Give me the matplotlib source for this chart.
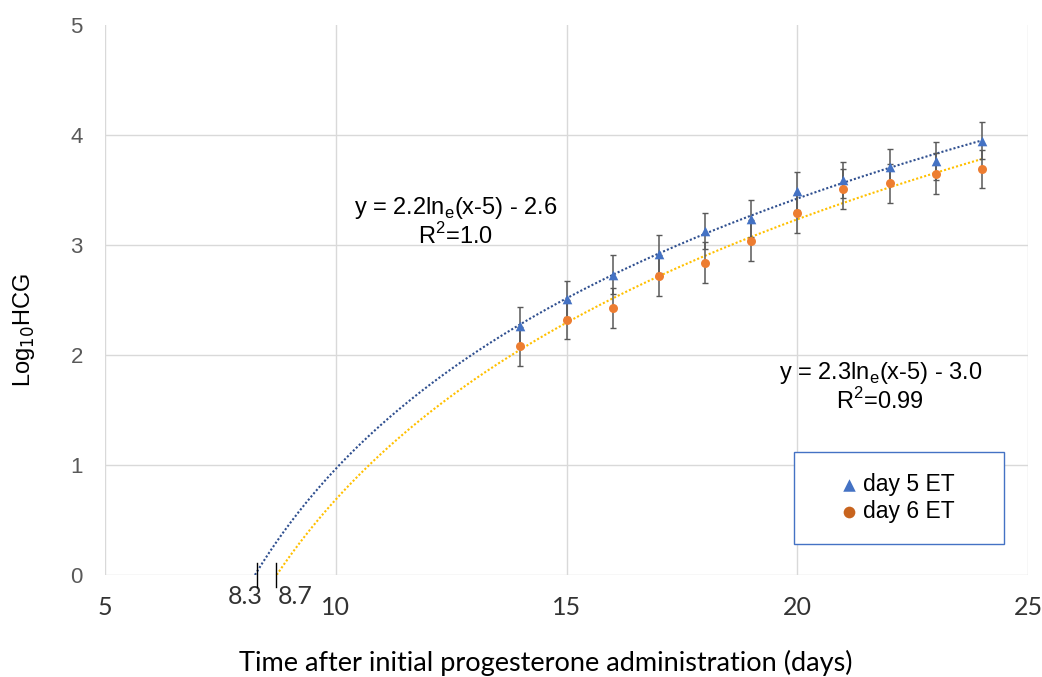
import numpy as np
import matplotlib
matplotlib.use('Agg')
import matplotlib.pyplot as plt
from matplotlib.patches import Rectangle

# data
days = [14, 15, 16, 17, 18, 19, 20, 21, 22, 23, 24]
day5_mean = [2.26, 2.51, 2.73, 2.92, 3.13, 3.24, 3.49, 3.59, 3.71, 3.76, 3.95]
day5_err = [0.175, 0.164, 0.176, 0.17, 0.164, 0.167, 0.176, 0.164, 0.164, 0.173, 0.167]
day6_mean = [2.08, 2.32, 2.43, 2.72, 2.84, 3.04, 3.29, 3.51, 3.56, 3.65, 3.69]
day6_err = [0.176, 0.176, 0.18, 0.185, 0.185, 0.185, 0.18, 0.18, 0.18, 0.185, 0.176]
x_cross = [8.3, 8.7]
x_ticks = [5, 10, 15, 20, 25]
y_ticks = [0, 1, 2, 3, 4, 5]

fig = plt.figure(figsize=(10.42, 6.77), dpi=100)
ax = fig.add_axes([0.1008, 0.1507, 0.8858, 0.8123])

blue = '#4472C4'
orange = '#ED7D31'
grey = '#595959'

x = np.array(days, dtype=float)


def log_fit(y):
    a, b = np.polyfit(np.log(x - 5), np.array(y), 1)
    return a, b


# trend lines, from where they cross zero up to the last day
for y, col in [(day5_mean, '#2F4F8F'), (day6_mean, '#FFC000')]:
    a, b = log_fit(y)
    x0 = 5 + np.exp(-b / a)
    xs = np.linspace(x0, x.max(), 200)
    ax.plot(xs, a * np.log(xs - 5) + b, ls=(0, (1, 1)), color=col, lw=1.5, zorder=2)

ax.errorbar(days, day5_mean, yerr=day5_err, fmt='none', ecolor=grey, elinewidth=1.1,
            capsize=2.5, capthick=1, zorder=3)
ax.errorbar(days, day6_mean, yerr=day6_err, fmt='none', ecolor=grey, elinewidth=1.1,
            capsize=2.5, capthick=1, zorder=3)
ax.scatter(days, day5_mean, marker='^', s=48, color=blue, lw=0, zorder=4, label='day 5 ET')
ax.scatter(days, day6_mean, marker='o', s=42, color=orange, lw=0, zorder=4, label='day 6 ET')

ax.set_xlim(5, 25)
ax.set_ylim(0, 5)
ax.set_xticks(x_ticks)
ax.set_yticks(y_ticks)
ax.grid(True, color='#D9D9D9', lw=1)
ax.get_ygridlines()[-1].set_visible(False)
ax.set_axisbelow(True)
for s in ax.spines.values():
    s.set_visible(False)
ax.tick_params(length=0)
ax.tick_params(axis='y', labelsize=16, labelcolor='#595959', pad=16)
ax.tick_params(axis='x', labelsize=18, labelcolor='#333333', pad=15)
for lab in ax.get_yticklabels():
    lab.set_family('Liberation Sans')
for lab in ax.get_xticklabels():
    lab.set_family('Lato')

# marks where the trend lines meet zero
for xc, ha, xt in [(x_cross[0], 'right', 8.42), (x_cross[1], 'left', 8.75)]:
    ax.plot([xc, xc], [-0.11, 0.11], color='black', lw=1, clip_on=False, zorder=5)
    ax.text(xt, -0.2, f'{xc}', ha=ha, va='center', fontsize=18, family='Lato',
            color='#333333')

ax.set_xlabel('Time after initial progesterone administration (days)', fontsize=19.5,
              family='Lato', color='black')
ax.xaxis.set_label_coords(0.478, -0.16)
ax.xaxis.label.set_va('center')
ax.set_ylabel('Log$_{10}$HCG', fontsize=17, family='Liberation Sans')
ax.yaxis.set_label_coords(-0.088, 0.445)
ax.yaxis.label.set_va('center')

ax.text(12.6, 3.21, 'y = 2.2ln$_{\\mathregular{e}}$(x-5) - 2.6\nR$^{\\mathregular{2}}$=1.0',
        ha='center', va='center', fontsize=17, family='Liberation Sans',
        multialignment='center', linespacing=1.1)
ax.text(21.8, 1.71, 'y = 2.3ln$_{\\mathregular{e}}$(x-5) - 3.0\nR$^{\\mathregular{2}}$=0.99',
        ha='center', va='center', fontsize=17, family='Liberation Sans',
        multialignment='center', linespacing=1.1)

ax.add_patch(Rectangle((0.7465, 0.0564), 0.2275, 0.1673, transform=ax.transAxes,
                       fill=True, facecolor='white', edgecolor=blue, lw=1, zorder=6))
leg = ax.legend(loc='center', bbox_to_anchor=(0.856, 0.14), frameon=False,
                prop={'family': 'Liberation Sans', 'size': 16.5},
                handletextpad=0.0, labelspacing=0.15, handlelength=1.2, markerscale=1.3)
leg.set_zorder(7)
leg.legend_handles[1].set_color('#C8641E')

fig.savefig('out.png', dpi=100)
